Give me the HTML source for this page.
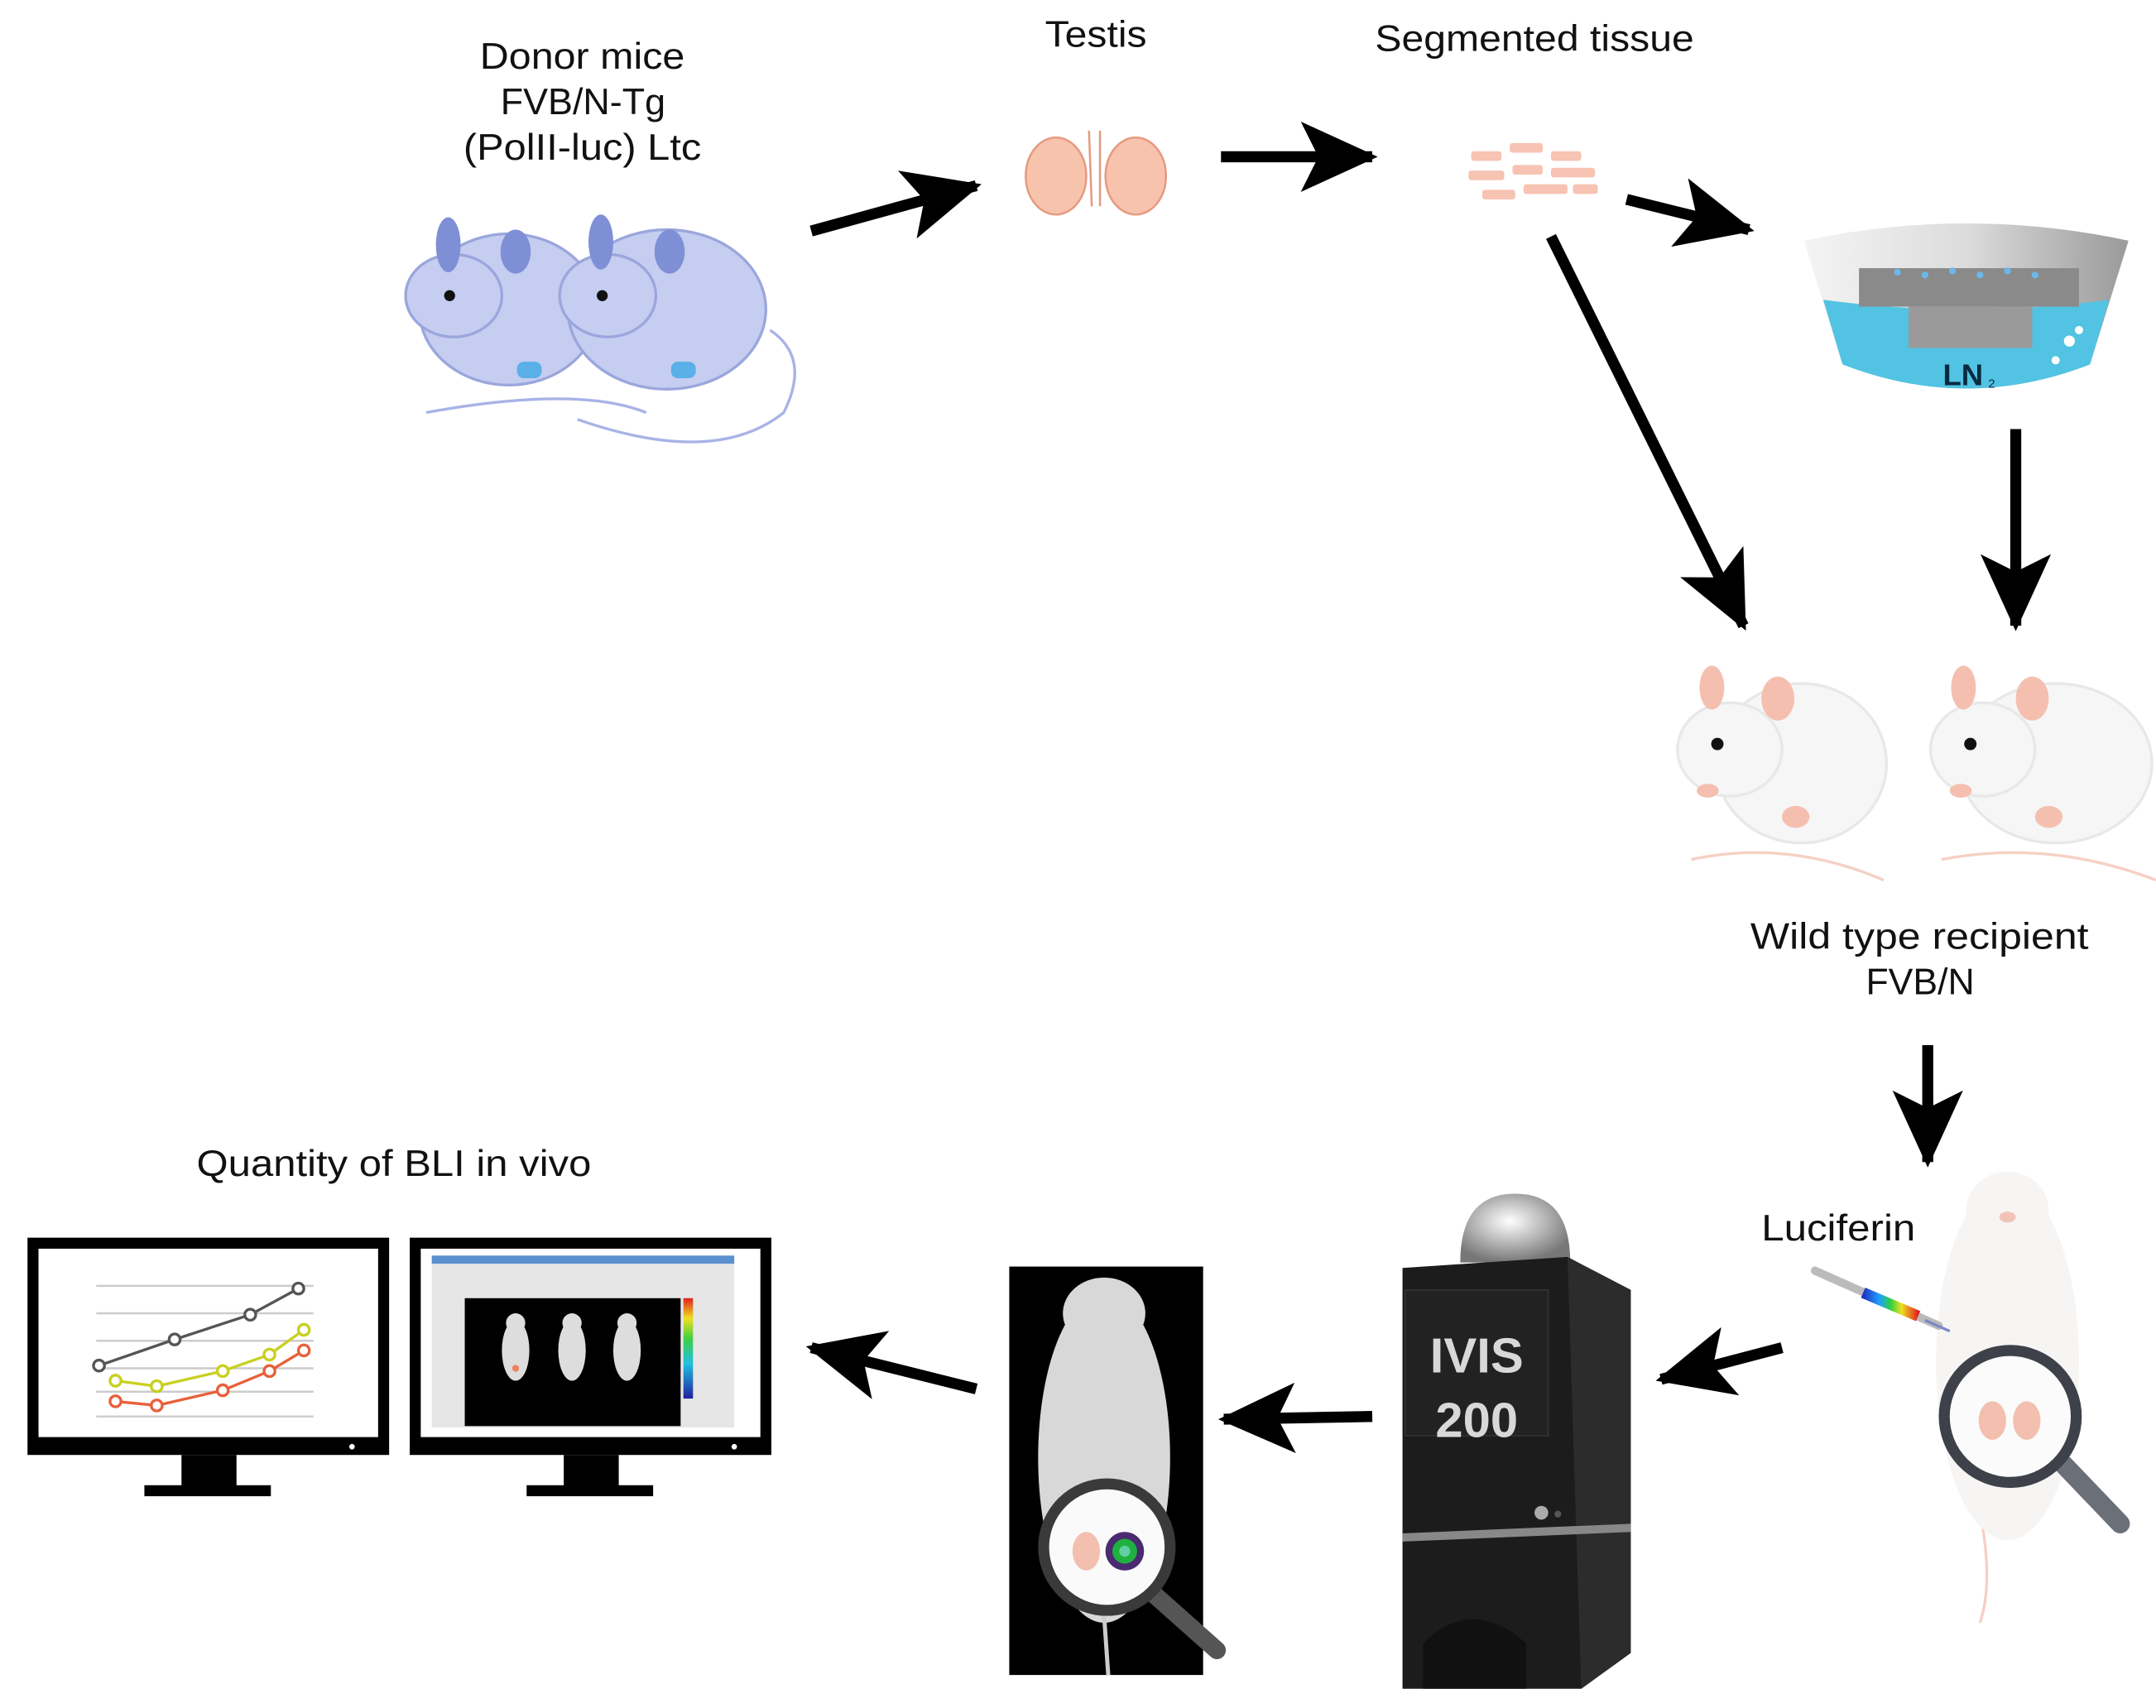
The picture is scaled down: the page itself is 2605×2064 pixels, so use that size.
<!DOCTYPE html>
<html><head><meta charset="utf-8"><style>
html,body{margin:0;padding:0;background:#fff;}
svg{display:block;}
text{font-family:"Liberation Sans",sans-serif;fill:#111;}
</style></head><body>
<svg width="2605" height="2064" viewBox="0 0 1568 1242" preserveAspectRatio="none" xmlns="http://www.w3.org/2000/svg">
<defs>
<marker id="ah" markerWidth="7" markerHeight="6.4" refX="6.5" refY="3.2" orient="auto" markerUnits="strokeWidth">
<path d="M0,0 L7,3.2 L0,6.4 L1.6,3.2 z" fill="#000"/>
</marker>
<linearGradient id="dew" x1="0" x2="1"><stop offset="0" stop-color="#f4f4f4"/><stop offset="0.5" stop-color="#dcdcdc"/><stop offset="1" stop-color="#9a9a9a"/></linearGradient>
<linearGradient id="rain" x1="0" x2="1"><stop offset="0" stop-color="#2030c0"/><stop offset=".3" stop-color="#20a0ff"/><stop offset=".5" stop-color="#30d040"/><stop offset=".7" stop-color="#f0e020"/><stop offset="1" stop-color="#e02020"/></linearGradient>
<linearGradient id="cbar" x1="0" y1="1" x2="0" y2="0"><stop offset="0" stop-color="#2020a0"/><stop offset=".35" stop-color="#20c0e0"/><stop offset=".6" stop-color="#40d040"/><stop offset=".8" stop-color="#f0e020"/><stop offset="1" stop-color="#e02020"/></linearGradient>
<radialGradient id="dome" cx=".45" cy=".4" r=".6"><stop offset="0" stop-color="#fff"/><stop offset="1" stop-color="#777"/></radialGradient>
</defs>

<!-- labels -->
<g font-size="27" lengthAdjust="spacingAndGlyphs">
<text x="349" y="50" textLength="149" lengthAdjust="spacingAndGlyphs">Donor mice</text>
<text x="364" y="83" textLength="120" lengthAdjust="spacingAndGlyphs">FVB/N-Tg</text>
<text x="337" y="116" textLength="173" lengthAdjust="spacingAndGlyphs">(PolII-luc) Ltc</text>
<text x="760" y="34" textLength="74" lengthAdjust="spacingAndGlyphs">Testis</text>
<text x="1000" y="37" textLength="232" lengthAdjust="spacingAndGlyphs">Segmented tissue</text>
<text x="1273" y="690" textLength="246" lengthAdjust="spacingAndGlyphs">Wild type recipient</text>
<text x="1357" y="723" textLength="79" lengthAdjust="spacingAndGlyphs">FVB/N</text>
<text x="143" y="855" textLength="287" lengthAdjust="spacingAndGlyphs">Quantity of BLI in vivo</text>
<text x="1281" y="902" textLength="112" lengthAdjust="spacingAndGlyphs">Luciferin</text>
</g>

<!-- arrows -->
<g stroke="#000" stroke-width="8" fill="none" marker-end="url(#ah)">
<line x1="590" y1="168" x2="710" y2="135"/>
<line x1="888" y1="114" x2="998" y2="114"/>
<line x1="1183" y1="145" x2="1272" y2="167"/>
<line x1="1128" y1="172" x2="1268" y2="455"/>
<line x1="1466" y1="312" x2="1466" y2="455"/>
<line x1="1402" y1="760" x2="1402" y2="845"/>
<line x1="1296" y1="980" x2="1208" y2="1003"/>
<line x1="998" y1="1030" x2="890" y2="1032"/>
<line x1="710" y1="1010" x2="590" y2="980"/>
</g>

<!-- donor mice (blue) -->
<g fill="#c5cdf0" stroke="#9aa6dc" stroke-width="2">
<path d="M310 300 Q420 280 470 300" fill="none" stroke="#a8b3e6"/>
<path d="M420 305 Q520 340 570 300 Q590 260 560 240" fill="none" stroke="#a8b3e6"/>
<ellipse cx="370" cy="225" rx="65" ry="55"/>
<ellipse cx="330" cy="215" rx="35" ry="30"/>
<ellipse cx="485" cy="225" rx="72" ry="58"/>
<ellipse cx="442" cy="215" rx="35" ry="30"/>
</g>
<g fill="#7f8fd6"><ellipse cx="326" cy="178" rx="9" ry="20"/><ellipse cx="375" cy="183" rx="11" ry="16"/><ellipse cx="437" cy="176" rx="9" ry="20"/><ellipse cx="487" cy="183" rx="11" ry="16"/></g>
<circle cx="327" cy="215" r="4" fill="#111"/><circle cx="438" cy="215" r="4" fill="#111"/>
<rect x="376" y="263" width="18" height="12" rx="5" fill="#5ab0e8"/><rect x="488" y="263" width="18" height="12" rx="5" fill="#5ab0e8"/>

<!-- testis -->
<g fill="#f7c3ad" stroke="#e69a80" stroke-width="1.5">
<ellipse cx="768" cy="128" rx="22" ry="28"/><ellipse cx="826" cy="128" rx="22" ry="28"/>
<path d="M792 95 L794 150 M800 95 L800 150" fill="none"/>
</g>

<!-- segmented tissue -->
<g fill="#f7c3b3">
<rect x="1070" y="110" width="22" height="7" rx="2"/><rect x="1098" y="104" width="24" height="7" rx="2"/><rect x="1128" y="110" width="22" height="7" rx="2"/>
<rect x="1068" y="124" width="26" height="7" rx="2"/><rect x="1100" y="120" width="22" height="7" rx="2"/><rect x="1128" y="122" width="32" height="7" rx="2"/>
<rect x="1078" y="138" width="24" height="7" rx="2"/><rect x="1108" y="134" width="32" height="7" rx="2"/><rect x="1144" y="134" width="18" height="7" rx="2"/>
</g>

<!-- LN2 dewar -->
<path d="M1312 175 Q1430 150 1548 175 L1520 265 Q1430 300 1340 265 Z" fill="url(#dew)"/>
<path d="M1326 218 Q1430 232 1534 218 L1520 265 Q1430 300 1340 265 Z" fill="#52c3e2"/>
<rect x="1352" y="195" width="160" height="28" fill="#8a8a8a"/>
<rect x="1388" y="223" width="90" height="30" fill="#9a9a9a"/>
<g fill="#6bb8e8"><circle cx="1380" cy="198" r="2.5"/><circle cx="1400" cy="200" r="2.5"/><circle cx="1420" cy="197" r="2.5"/><circle cx="1440" cy="200" r="2.5"/><circle cx="1460" cy="197" r="2.5"/><circle cx="1480" cy="200" r="2.5"/></g>
<g fill="#fff"><circle cx="1505" cy="248" r="4"/><circle cx="1495" cy="262" r="3"/><circle cx="1512" cy="240" r="3"/></g>
<text x="1413" y="280" font-size="22" font-weight="bold" style="fill:#0a2a40">LN</text><text x="1446" y="282" font-size="9" style="fill:#0a2a40">2</text>

<!-- white mice -->
<g fill="#f6f6f6" stroke="#e8e8e8" stroke-width="2">
<path d="M1230 625 Q1300 610 1370 640" fill="none" stroke="#f6d0c4"/>
<path d="M1412 625 Q1490 610 1568 640" fill="none" stroke="#f6d0c4"/>
<ellipse cx="1310" cy="555" rx="62" ry="58"/><ellipse cx="1258" cy="545" rx="38" ry="34"/>
<ellipse cx="1495" cy="555" rx="70" ry="58"/><ellipse cx="1442" cy="545" rx="38" ry="34"/>
</g>
<g fill="#f5bfb0"><ellipse cx="1245" cy="500" rx="9" ry="16"/><ellipse cx="1293" cy="508" rx="12" ry="16"/><ellipse cx="1428" cy="500" rx="9" ry="16"/><ellipse cx="1478" cy="508" rx="12" ry="16"/>
<ellipse cx="1306" cy="594" rx="10" ry="8"/><ellipse cx="1490" cy="594" rx="10" ry="8"/><ellipse cx="1242" cy="575" rx="8" ry="5"/><ellipse cx="1426" cy="575" rx="8" ry="5"/></g>
<circle cx="1249" cy="541" r="4.5" fill="#111"/><circle cx="1433" cy="541" r="4.5" fill="#111"/>

<!-- top-view mouse with syringe -->
<path d="M1440 1100 Q1450 1150 1440 1180" stroke="#f6d0c4" stroke-width="2" fill="none"/>
<ellipse cx="1460" cy="990" rx="52" ry="130" fill="#f7f5f3"/>
<ellipse cx="1460" cy="880" rx="30" ry="28" fill="#f7f5f3"/>
<ellipse cx="1460" cy="885" rx="6" ry="4" fill="#f2c4b8"/>
<line x1="1320" y1="924" x2="1410" y2="964" stroke="#bbb" stroke-width="6" stroke-linecap="round"/>
<line x1="1355" y1="940" x2="1395" y2="957" stroke="url(#rain)" stroke-width="8"/>
<line x1="1400" y1="960" x2="1418" y2="968" stroke="#7a88c8" stroke-width="2"/>
<line x1="1498" y1="1062" x2="1542" y2="1108" stroke="#6b6f78" stroke-width="14" stroke-linecap="round"/>
<circle cx="1462" cy="1030" r="48" fill="#fbfbfb" stroke="#3e414a" stroke-width="8"/>
<g fill="#f3bfae"><ellipse cx="1449" cy="1033" rx="10" ry="14"/><ellipse cx="1474" cy="1033" rx="10" ry="14"/></g>

<!-- IVIS 200 -->
<path d="M1062 918 Q1062 868 1102 868 Q1142 868 1142 918 Z" fill="url(#dome)"/>
<path d="M1020 922 L1140 914 L1186 938 L1186 1202 L1150 1228 L1020 1228 Z" fill="#1c1c1c"/>
<path d="M1140 914 L1186 938 L1186 1202 L1150 1228 Z" fill="#2c2c2c"/>
<rect x="1022" y="938" width="104" height="106" fill="#222" stroke="#333"/>
<text x="1074" y="998" font-size="36" font-weight="bold" text-anchor="middle" style="fill:#d8d8d8">IVIS</text>
<text x="1074" y="1045" font-size="36" font-weight="bold" text-anchor="middle" style="fill:#d8d8d8">200</text>
<path d="M1020 1115 L1186 1108 L1186 1114 L1020 1121 Z" fill="#888"/>
<circle cx="1121" cy="1100" r="5" fill="#aaa"/><circle cx="1133" cy="1101" r="2.5" fill="#555"/>
<path d="M1035 1228 L1035 1195 Q1070 1160 1110 1195 L1110 1228 Z" fill="#111"/>

<!-- black imaging panel -->
<rect x="734" y="921" width="141" height="297" fill="#000"/>
<ellipse cx="803" cy="1060" rx="48" ry="120" fill="#d8d8d8"/>
<ellipse cx="803" cy="955" rx="30" ry="26" fill="#d8d8d8"/>
<line x1="803" y1="1175" x2="806" y2="1218" stroke="#ccc" stroke-width="3"/>
<line x1="840" y1="1160" x2="885" y2="1200" stroke="#555" stroke-width="13" stroke-linecap="round"/>
<circle cx="805" cy="1125" r="46" fill="#fafafa" stroke="#3a3a3a" stroke-width="8"/>
<ellipse cx="790" cy="1128" rx="10" ry="14" fill="#f3bfae"/>
<circle cx="818" cy="1128" r="14" fill="#4a2a70"/><circle cx="818" cy="1128" r="9" fill="#20b040"/><circle cx="818" cy="1128" r="4" fill="#60d0a0"/>

<!-- monitors -->
<rect x="20" y="900" width="263" height="158" fill="#000"/>
<rect x="28" y="908" width="247" height="137" fill="#fff"/>
<rect x="132" y="1058" width="40" height="24" fill="#000"/><rect x="105" y="1080" width="92" height="8" fill="#000"/>
<g stroke="#ccc" stroke-width="1.5"><line x1="70" y1="935" x2="228" y2="935"/><line x1="70" y1="955" x2="228" y2="955"/><line x1="70" y1="975" x2="228" y2="975"/><line x1="70" y1="995" x2="228" y2="995"/><line x1="70" y1="1012" x2="228" y2="1012"/><line x1="70" y1="1030" x2="228" y2="1030"/></g>
<polyline points="72,993 127,974 182,956 217,937" fill="none" stroke="#555" stroke-width="2"/>
<polyline points="84,1004 114,1008 162,997 196,985 221,967" fill="none" stroke="#c8d020" stroke-width="2"/>
<polyline points="84,1019 114,1022 162,1011 196,997 221,982" fill="none" stroke="#e8603a" stroke-width="2"/>
<g fill="#fff" stroke-width="2"><circle cx="72" cy="993" r="4" stroke="#555"/><circle cx="127" cy="974" r="4" stroke="#555"/><circle cx="182" cy="956" r="4" stroke="#555"/><circle cx="217" cy="937" r="4" stroke="#555"/>
<circle cx="84" cy="1004" r="4" stroke="#c8d020"/><circle cx="114" cy="1008" r="4" stroke="#c8d020"/><circle cx="162" cy="997" r="4" stroke="#c8d020"/><circle cx="196" cy="985" r="4" stroke="#c8d020"/><circle cx="221" cy="967" r="4" stroke="#c8d020"/>
<circle cx="84" cy="1019" r="4" stroke="#e8603a"/><circle cx="114" cy="1022" r="4" stroke="#e8603a"/><circle cx="162" cy="1011" r="4" stroke="#e8603a"/><circle cx="196" cy="997" r="4" stroke="#e8603a"/><circle cx="221" cy="982" r="4" stroke="#e8603a"/></g>
<circle cx="256" cy="1052" r="2" fill="#fff"/>

<rect x="298" y="900" width="263" height="158" fill="#000"/>
<rect x="306" y="908" width="247" height="137" fill="#fff"/>
<rect x="314" y="913" width="220" height="6" fill="#5b8fd0"/>
<rect x="314" y="919" width="220" height="119" fill="#e6e6e6"/>
<rect x="338" y="944" width="157" height="93" fill="#000"/>
<rect x="497" y="944" width="7" height="73" fill="url(#cbar)"/>
<g fill="#ddd"><ellipse cx="375" cy="982" rx="10" ry="22"/><ellipse cx="416" cy="982" rx="10" ry="22"/><ellipse cx="456" cy="982" rx="10" ry="22"/>
<circle cx="375" cy="962" r="7"/><circle cx="416" cy="962" r="7"/><circle cx="456" cy="962" r="7"/></g>
<circle cx="375" cy="995" r="2.5" fill="#f08060"/>
<rect x="410" y="1058" width="40" height="24" fill="#000"/><rect x="383" y="1080" width="92" height="8" fill="#000"/>
<circle cx="534" cy="1052" r="2" fill="#fff"/>
</svg>
</body></html>
